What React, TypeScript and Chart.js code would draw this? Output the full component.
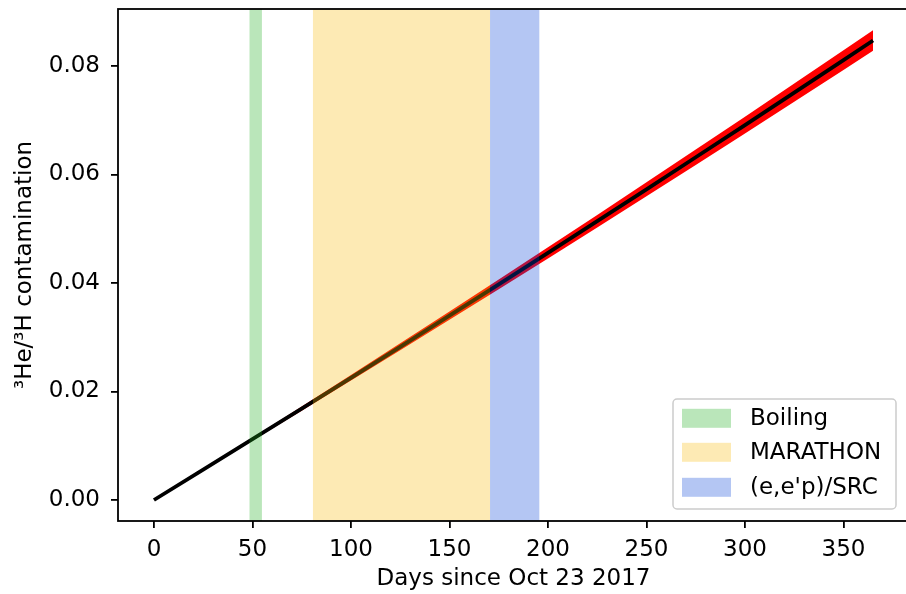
import React, { useEffect, useRef } from "react";
import { Chart, registerables } from "chart.js";

Chart.register(...registerables);

// ---- data ----
const days = [0, 25, 50, 75, 100, 125, 150, 175, 200, 225, 250, 275, 300, 325, 350, 365];
const ratio = [0, 0.00558, 0.0112, 0.01685, 0.02253, 0.02824, 0.03398, 0.03975, 0.04556, 0.0514, 0.05727, 0.06317, 0.06911, 0.07508, 0.08108, 0.0847];
const ratioUpper = [0, 0.00571, 0.01145, 0.01722, 0.02303, 0.02887, 0.03474, 0.04064, 0.04658, 0.05255, 0.05856, 0.06459, 0.07066, 0.07677, 0.08291, 0.08661];
const ratioLower = [0, 0.00546, 0.01095, 0.01647, 0.02202, 0.0276, 0.03321, 0.03886, 0.04453, 0.05024, 0.05598, 0.06175, 0.06757, 0.07339, 0.07926, 0.08279];

const spanLabels = ["Boiling", "MARATHON", "(e,e'p)/SRC"];
const spanStart = [48.5, 80.7, 170.6];
const spanEnd = [54.8, 170.6, 195.6];
const spanColors = ["rgba(25,172,25,0.3)", "rgba(248,185,5,0.3)", "rgba(5,65,215,0.3)"];

const xTicks = [0, 50, 100, 150, 200, 250, 300, 350];
const yTicks = [0, 0.02, 0.04, 0.06, 0.08];
const xRange = [-18.25, 383.25];
const yRange = [-0.00387, 0.0905];

const xTitle = "Days since Oct 23 2017";
const yTitle = "\u00B3He/\u00B3H contamination";

const FONT = "DejaVu Sans";
const FS = 23;

const spansPlugin = {
  id: "spansAndFrame",
  afterDatasetsDraw(chart: any) {
    const { ctx, chartArea, scales } = chart;
    const x = scales.x;
    ctx.save();
    ctx.beginPath();
    ctx.rect(chartArea.left, chartArea.top, chartArea.right - chartArea.left, chartArea.bottom - chartArea.top);
    ctx.clip();
    for (let i = 0; i < spanStart.length; i++) {
      const a = x.getPixelForValue(spanStart[i]);
      const b = x.getPixelForValue(spanEnd[i]);
      ctx.fillStyle = spanColors[i];
      ctx.fillRect(a, chartArea.top, b - a, chartArea.bottom - chartArea.top);
    }
    ctx.restore();
    // frame
    ctx.save();
    ctx.strokeStyle = "#000";
    ctx.lineWidth = 1.8;
    ctx.strokeRect(chartArea.left, chartArea.top, chartArea.right - chartArea.left, chartArea.bottom - chartArea.top);
    ctx.restore();
  },
  afterDraw(chart: any) {
    const { ctx, chartArea } = chart;
    const w = 223;
    const h = 110;
    const right = chartArea.right - 13;
    const bottom = chartArea.bottom - 12;
    const left = right - w;
    const top = bottom - h;
    const r = 4;
    ctx.save();
    ctx.beginPath();
    ctx.moveTo(left + r, top);
    ctx.lineTo(left + w - r, top);
    ctx.arcTo(left + w, top, left + w, top + r, r);
    ctx.lineTo(left + w, top + h - r);
    ctx.arcTo(left + w, top + h, left + w - r, top + h, r);
    ctx.lineTo(left + r, top + h);
    ctx.arcTo(left, top + h, left, top + h - r, r);
    ctx.lineTo(left, top + r);
    ctx.arcTo(left, top, left + r, top, r);
    ctx.closePath();
    ctx.fillStyle = "rgba(255,255,255,0.8)";
    ctx.fill();
    ctx.strokeStyle = "#cccccc";
    ctx.lineWidth = 1.5;
    ctx.stroke();
    const rows = [19.3, 53.3, 88.3];
    ctx.font = `${FS}px "${FONT}"`;
    ctx.textBaseline = "middle";
    ctx.textAlign = "left";
    for (let i = 0; i < spanLabels.length; i++) {
      const cy = top + rows[i];
      ctx.fillStyle = "#ffffff";
      ctx.fillRect(left + 9, cy - 9.5, 49, 19);
      ctx.fillStyle = spanColors[i];
      ctx.fillRect(left + 9, cy - 9.5, 49, 19);
      ctx.fillStyle = "#000";
      ctx.fillText(spanLabels[i], left + 77, cy + 1);
    }
    ctx.restore();
  },
};

export default function App() {
  const ref = useRef<HTMLCanvasElement>(null);
  useEffect(() => {
    if (!ref.current) return;
    Chart.defaults.font.family = FONT;
    Chart.defaults.font.size = FS;
    Chart.defaults.color = "#000";
    const toPts = (ys: number[]) => days.map((d, i) => ({ x: d, y: ys[i] }));
    const chart = new Chart(ref.current, {
      type: "line",
      data: {
        datasets: [
          {
            data: toPts(ratioLower),
            borderWidth: 0,
            borderColor: "rgba(0,0,0,0)",
            pointRadius: 0,
            fill: false,
            order: 2,
          },
          {
            data: toPts(ratioUpper),
            borderWidth: 0,
            borderColor: "rgba(0,0,0,0)",
            backgroundColor: "#ff0000",
            pointRadius: 0,
            fill: "-1",
            order: 1,
          },
          {
            data: toPts(ratio),
            borderWidth: 3.8,
            borderColor: "#000",
            pointRadius: 0,
            fill: false,
            order: 0,
          },
        ],
      },
      options: {
        animation: false,
        responsive: false,
        layout: { padding: { left: 0, right: 11, top: 9, bottom: 0 } },
        plugins: { legend: { display: false }, tooltip: { enabled: false } },
        scales: {
          x: {
            type: "linear",
            min: xRange[0],
            max: xRange[1],
            afterBuildTicks: (s: any) => {
              s.ticks = xTicks.map((v) => ({ value: v }));
            },
            afterFit: (s: any) => {
              s.height = 73;
              s.paddingLeft = 0;
              s.paddingRight = 0;
            },
            grid: { display: true, drawOnChartArea: false, drawTicks: true, tickLength: 7, color: "#000", lineWidth: 1.8 },
            border: { display: false },
            ticks: { padding: 8, font: { size: FS }, color: "#000", callback: (v: any) => String(v), maxRotation: 0 },
            title: { display: true, text: xTitle, font: { size: FS }, color: "#000", padding: { top: 0, bottom: 1 } },
          },
          y: {
            type: "linear",
            min: yRange[0],
            max: yRange[1],
            afterBuildTicks: (s: any) => {
              s.ticks = yTicks.map((v) => ({ value: v }));
            },
            afterFit: (s: any) => {
              s.width = 118;
              s.paddingTop = 0;
              s.paddingBottom = 0;
            },
            grid: { display: true, drawOnChartArea: false, drawTicks: true, tickLength: 7, color: "#000", lineWidth: 1.8 },
            border: { display: false },
            ticks: { padding: 11, font: { size: FS }, color: "#000", callback: (v: any) => Number(v).toFixed(2) },
            title: { display: true, text: yTitle, font: { size: FS }, color: "#000", padding: { top: 11, bottom: 0 } },
          },
        },
      },
      plugins: [spansPlugin],
    } as any);
    return () => chart.destroy();
  }, []);
  return (
    <div style={{ position: "fixed", left: 0, top: 0, width: 920, height: 594, background: "#fff" }}>
      <canvas ref={ref} width={920} height={594} style={{ width: 920, height: 594, display: "block" }} />
    </div>
  );
}
